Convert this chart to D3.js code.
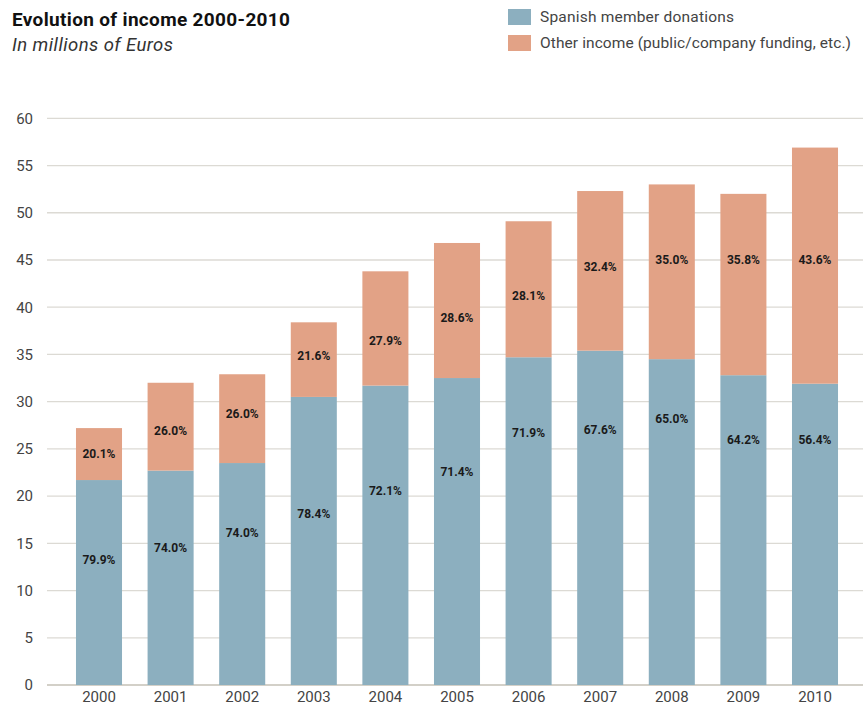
<!DOCTYPE html>
<html>
<head>
<meta charset="utf-8">
<script src="https://cdn.jsdelivr.net/npm/d3@7"></script>
<style>
  body { margin: 0; background: #fff; }
  svg text { font-family: Roboto, "Noto Sans", sans-serif; }
</style>
</head>
<body>
<div id="chart"></div>
<script>
// data (millions of euros)
var years = ["2000", "2001", "2002", "2003", "2004", "2005", "2006", "2007", "2008", "2009", "2010"];
var memberDonations = [21.7, 22.7, 23.5, 30.5, 31.7, 32.5, 34.7, 35.4, 34.5, 32.8, 31.9];
var otherIncome = [5.5, 9.3, 9.4, 7.9, 12.1, 14.3, 14.4, 16.9, 18.5, 19.2, 25.0];
var memberLabels = ["79.9%", "74.0%", "74.0%", "78.4%", "72.1%", "71.4%", "71.9%", "67.6%", "65.0%", "64.2%", "56.4%"];
var otherLabels = ["20.1%", "26.0%", "26.0%", "21.6%", "27.9%", "28.6%", "28.1%", "32.4%", "35.0%", "35.8%", "43.6%"];
// where the percentage labels sit, in millions
var memberLabelAt = [13.3, 14.5, 16.1, 18.1, 20.6, 22.6, 26.7, 27.0, 28.2, 26.0, 26.0];
var otherLabelAt = [24.5, 26.9, 28.7, 34.9, 36.5, 38.9, 41.2, 44.3, 45.0, 45.0, 45.0];
var yTicks = [0, 5, 10, 15, 20, 25, 30, 35, 40, 45, 50, 55, 60];
var seriesNames = ["Spanish member donations", "Other income (public/company funding, etc.)"];
var colors = ["#8cafbf", "#e2a286"];

var W = 863, H = 709;
var svg = d3.select("#chart").append("svg")
  .attr("width", W).attr("height", H);

var x = d3.scaleBand()
  .domain(years)
  .range([63.2, 850.8])
  .paddingInner(0.357)
  .paddingOuter(0.1785);

var y = d3.scaleLinear()
  .domain([0, 60])
  .range([685, 118.3]);

// gridlines
svg.append("g")
  .selectAll("line")
  .data(yTicks)
  .enter().append("line")
  .attr("x1", 47).attr("x2", W)
  .attr("y1", function(d) { return y(d); })
  .attr("y2", function(d) { return y(d); })
  .attr("stroke", function(d) { return d === 0 ? "#d3d0c8" : "#dcdad4"; })
  .attr("stroke-width", function(d) { return d === 0 ? 2 : 1.3; });

// y axis labels
var yAxis = d3.axisLeft(y).tickValues(yTicks).tickSize(0).tickPadding(0);
svg.append("g")
  .attr("transform", "translate(33,0)")
  .call(yAxis)
  .call(function(g) { g.select(".domain").remove(); })
  .selectAll("text")
  .attr("font-size", 15)
  .attr("fill", "#444")
  .style("font-family", "Roboto, sans-serif");

// stacked bars
var rows = years.map(function(yr, i) {
  return { year: yr, member: memberDonations[i], other: otherIncome[i] };
});
var stack = d3.stack().keys(["member", "other"]);
var layers = stack(rows);

svg.append("g")
  .selectAll("g")
  .data(layers)
  .enter().append("g")
  .attr("fill", function(d, i) { return colors[i]; })
  .selectAll("rect")
  .data(function(d) { return d; })
  .enter().append("rect")
  .attr("x", function(d) { return x(d.data.year); })
  .attr("width", x.bandwidth())
  .attr("y", function(d) { return y(d[1]); })
  .attr("height", function(d) { return y(d[0]) - y(d[1]); });

// percentage labels
function addLabels(labels, at) {
  svg.append("g")
    .selectAll("text")
    .data(years)
    .enter().append("text")
    .attr("x", function(d) { return x(d) + x.bandwidth() / 2; })
    .attr("y", function(d, i) { return y(at[i]); })
    .attr("dy", "0.36em")
    .attr("text-anchor", "middle")
    .attr("font-size", 12)
    .attr("font-weight", "bold")
    .attr("fill", "#1a1a1a")
    .text(function(d, i) { return labels[i]; });
}
addLabels(memberLabels, memberLabelAt);
addLabels(otherLabels, otherLabelAt);

// x axis
var xAxis = d3.axisBottom(x).tickSize(0).tickPadding(0);
svg.append("g")
  .attr("transform", "translate(0,697)")
  .call(xAxis)
  .call(function(g) { g.select(".domain").remove(); })
  .selectAll("text")
  .attr("dy", "0.35em")
  .attr("font-size", 15)
  .attr("fill", "#444")
  .style("font-family", "Roboto, sans-serif");

// title
svg.append("text")
  .attr("x", 12).attr("y", 26)
  .attr("font-size", 19)
  .attr("font-weight", "bold")
  .attr("fill", "#111")
  .attr("textLength", 278)
  .text("Evolution of income 2000-2010");
svg.append("text")
  .attr("x", 12).attr("y", 51)
  .attr("font-size", 18.5)
  .attr("font-style", "italic")
  .attr("fill", "#333")
  .attr("textLength", 161)
  .text("In millions of Euros");

// legend
var legendWidths = [194, 311];
var legend = svg.append("g")
  .selectAll("g")
  .data(seriesNames)
  .enter().append("g")
  .attr("transform", function(d, i) { return "translate(508," + (9 + i * 26) + ")"; });
legend.append("rect")
  .attr("width", 23).attr("height", 16)
  .attr("fill", function(d, i) { return colors[i]; });
legend.append("text")
  .attr("x", 32).attr("y", 8)
  .attr("dy", "0.35em")
  .attr("font-size", 15.5)
  .attr("fill", "#444")
  .attr("textLength", function(d, i) { return legendWidths[i]; })
  .text(function(d) { return d; });
</script>
</body>
</html>
